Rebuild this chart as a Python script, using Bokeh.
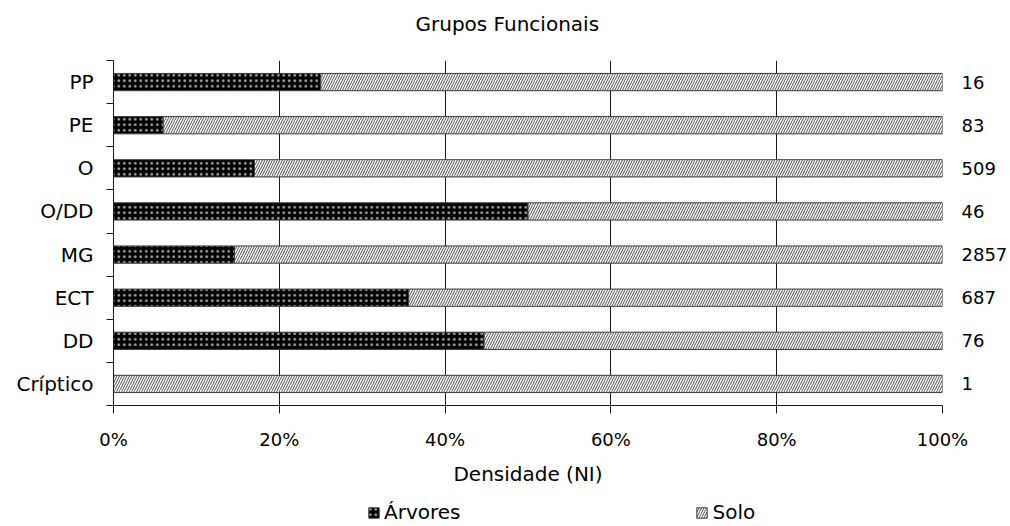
from bokeh.plotting import figure
from bokeh.layouts import column
from bokeh.models import (ColumnDataSource, FixedTicker, LinearAxis, Range1d,
                          NumeralTickFormatter, Legend, LegendItem)
from bokeh.embed import file_html
from bokeh.resources import INLINE

# ---- data (top to bottom as shown) ----
title_text = "Grupos Funcionais"
categories = ["PP", "PE", "O", "O/DD", "MG", "ECT", "DD", "Críptico"]
arvores_pct = [0.25, 0.06, 0.17, 0.50, 0.146, 0.356, 0.447, 0.0]
solo_pct = [1 - v for v in arvores_pct]
totals = ["16", "83", "509", "46", "2857", "687", "76", "1"]
x_ticks = [0.0, 0.2, 0.4, 0.6, 0.8, 1.0]

n = len(categories)
ypos = [n - 0.5 - i for i in range(n)]
src = ColumnDataSource(dict(
    y=ypos,
    a_left=[0.0] * n,
    a_right=arvores_pct,
    s_left=arvores_pct,
    s_right=[a + s for a, s in zip(arvores_pct, solo_pct)],
))

FONT = "DejaVu Sans"
FS = "20px"
FS_NUM = "18px"
INK = "#1a1a1a"

A_STYLE = dict(fill_color="black", line_color="#3a3a3a", line_width=1,
               hatch_pattern="dot", hatch_color="#a8a8a8", hatch_scale=5.5,
               hatch_weight=0.6)
S_STYLE = dict(fill_color="white", line_color="#3a3a3a", line_width=1,
               hatch_pattern="right_diagonal_line", hatch_color="#202020",
               hatch_scale=5, hatch_weight=0.8)

LEFT, RIGHT = 113, 67

# ---- title strip ----
t = figure(width=1010, height=50, output_backend="svg", toolbar_location=None,
           x_range=Range1d(0, 1), y_range=Range1d(0, 1),
           min_border=0, min_border_left=LEFT, min_border_right=RIGHT,
           x_axis_location=None, y_axis_location=None)
t.outline_line_color = None
t.grid.visible = False
t.title.text = title_text
t.title.align = "left"
t.title.offset = 302
t.title.standoff = 18
t.title.text_font = FONT
t.title.text_font_size = FS
t.title.text_font_style = "normal"
t.title.text_color = "black"

# ---- main chart ----
p = figure(width=1010, height=440, output_backend="svg", toolbar_location=None,
           x_range=Range1d(0, 1), y_range=Range1d(0, n),
           min_border_left=LEFT, min_border_right=RIGHT,
           min_border_top=10, min_border_bottom=85,
           x_axis_location=None, y_axis_location=None)
p.outline_line_color = None
p.background_fill_color = "white"

r_a = p.hbar(y="y", left="a_left", right="a_right", height=0.40, source=src,
             **A_STYLE)
r_s = p.hbar(y="y", left="s_left", right="s_right", height=0.40, source=src,
             **S_STYLE)

# bottom x axis
xax = LinearAxis(ticker=FixedTicker(ticks=x_ticks, minor_ticks=[]),
                 formatter=NumeralTickFormatter(format="0%"))
xax.axis_label = "Densidade (NI)"
xax.axis_label_text_font = FONT
xax.axis_label_text_font_size = FS
xax.axis_label_text_font_style = "normal"
xax.axis_label_text_color = "black"
xax.axis_label_standoff = 9
xax.major_label_text_font = FONT
xax.major_label_text_font_size = FS_NUM
xax.major_label_text_color = "black"
xax.major_label_standoff = 15
xax.major_tick_out = 8
xax.major_tick_in = 0
xax.axis_line_color = INK
xax.major_tick_line_color = INK
p.add_layout(xax, "below")

# left y axis: labels at centres, ticks between categories
yax = LinearAxis(ticker=FixedTicker(ticks=ypos, minor_ticks=list(range(n + 1))))
yax.major_label_overrides = {y: c for y, c in zip(ypos, categories)}
yax.major_label_text_font = FONT
yax.major_label_text_font_size = FS
yax.major_label_text_color = "black"
yax.major_label_standoff = 13
yax.major_tick_out = 0
yax.major_tick_in = 0
yax.minor_tick_out = 7
yax.minor_tick_in = 0
yax.axis_line_color = INK
yax.minor_tick_line_color = INK
p.add_layout(yax, "left")

# right axis: totals
rax = LinearAxis(ticker=FixedTicker(ticks=ypos, minor_ticks=[]))
rax.major_label_overrides = {y: t_ for y, t_ in zip(ypos, totals)}
rax.major_label_text_font = FONT
rax.major_label_text_font_size = FS_NUM
rax.major_label_text_color = "black"
rax.major_label_standoff = 19
rax.major_tick_out = 0
rax.major_tick_in = 0
rax.axis_line_color = None
p.add_layout(rax, "right")

# vertical gridlines
p.xgrid.ticker = FixedTicker(ticks=x_ticks)
p.xgrid.grid_line_color = INK
p.xgrid.grid_line_width = 1
p.ygrid.grid_line_color = None

# ---- legend strip below the chart ----
q = figure(width=1010, height=36, output_backend="svg", toolbar_location=None,
           x_range=Range1d(100, 101), y_range=Range1d(100, 101),
           min_border=0, min_border_left=LEFT, min_border_right=RIGHT,
           x_axis_location=None, y_axis_location=None)
q.outline_line_color = None
q.grid.visible = False
q_a = q.hbar(y="y", left="a_left", right="a_right", height=0.40, source=src,
             **A_STYLE)
q_s = q.hbar(y="y", left="s_left", right="s_right", height=0.40, source=src,
             **S_STYLE)

legend = Legend(items=[LegendItem(label="Árvores", renderers=[q_a]),
                       LegendItem(label="Solo", renderers=[q_s])],
                orientation="horizontal", location=(254, 2),
                spacing=235, glyph_width=13, glyph_height=13,
                label_standoff=4, padding=0, margin=0,
                border_line_color=None, background_fill_alpha=0,
                label_text_font=FONT, label_text_font_size=FS,
                label_text_color="black")
q.add_layout(legend, "center")

layout = column(t, p, q, spacing=0)
open("out.html", "w").write(file_html(layout, INLINE))
